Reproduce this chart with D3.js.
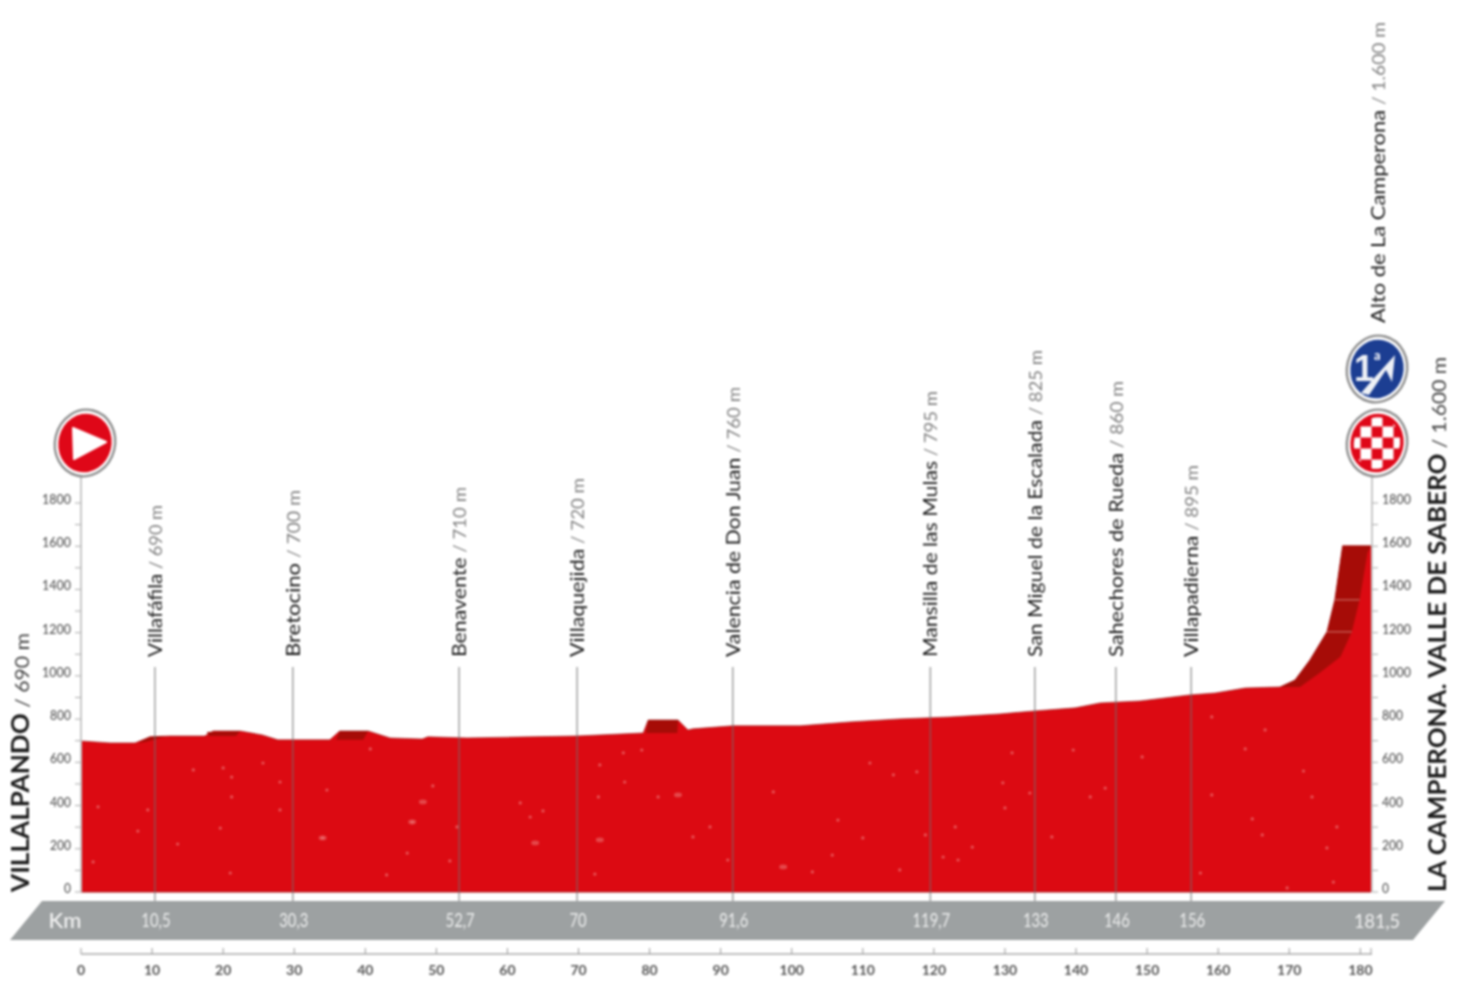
<!DOCTYPE html>
<html><head><meta charset="utf-8">
<script src="https://cdn.jsdelivr.net/npm/d3@7"></script>
<style>html,body{margin:0;background:#fff;overflow:hidden}svg{display:block;filter:blur(1px)}</style>
</head><body><svg id="c" width="1460" height="993"></svg>
<script>
const profileKm=[0,4.1,7.6,9.7,12.5,17.4,18.6,22.4,25.5,27.7,35,36.4,40.4,43.5,48,48.8,54.3,63.2,69.8,79.1,79.8,84,85.4,86.1,91.7,101.2,108.2,115.2,122.3,129.3,134.2,139.9,143.4,149,156,159.6,163.8,168.7,170.8,172.9,175.3,176.4,177.5,181.5];
const profileElev=[699,690,690,718,722,722,745,745,727,704,704,745,745,713,708,718,713,718,722,736,796,796,750,755,769,769,787,801,810,824,838,852,875,884,912,921,944,949,981,1074,1204,1352,1602,1602];
const wallFrontKm=[181.5,181,179.9,178.8,177.2,174.3,171.5,168.7];
const wallFrontElev=[1602,1569,1352,1204,1088,1014,949,949];
const wallBackKm=[168.7,170.8,172.9,175.3,176.4,177.5,181.5];
const wallBackElev=[949,981,1074,1204,1352,1602,1602];
const shadeKm=[[8,9.7,12,9.2],[17.7,22.4,21.8,18],[36.4,40.4,39.7,35.9],[79.8,84,83.9,79.5]];
const shadeElev=[[690,718,722,695],[740,745,722,722],[745,745,704,704],[796,796,736,736]];
const passNames=["Villafáfila","Bretocino","Benavente","Villaquejida","Valencia de Don Juan","Mansilla de las Mulas","San Miguel de la Escalada","Sahechores de Rueda","Villapadierna"];
const passAlts=["690 m","700 m","710 m","720 m","760 m","795 m","825 m","860 m","895 m"];
const passKm=[10.4,29.8,53.2,69.8,91.7,119.5,134.2,145.6,156.2];
const passLen=[152,167,170,179,270,266,307,276,192];
const bandLabels=["10,5","30,3","52,7","70","91,6","119,7","133","146","156"];
const kmTicks=[0,10,20,30,40,50,60,70,80,90,100,110,120,130,140,150,160,170,180];
const elevTicks=[0,200,400,600,800,1000,1200,1400,1600,1800];
const elevMinor=[100,300,500,700,900,1100,1300,1500,1700];
const speckKm=[25.6,15.8,20,21.2,28,49.5,34.6,40.7,2.4,9.4,46.6,52.9,34,43,1.7,21.2,8,13.6,45.9,51.9,21,28,19.6,72.3,72.8,76.5,81.2,102.9,118.8,115.2,111,114.3,117.6,65,61.8,63.2,86.1,88.5,97.4,106.5,105.7,91,76.3,78.9,110,73,163.8,139.6,133.5,130,125.4,123.4,121.3,176.7,173.2,159.1,164.8,166.2,157.5,176.2,169.7,175.3,144.1,142,149.3,136.6,166.6,159.1,172,129.7,131,123];
const speckElev=[597,565,574,532,509,491,472,662,394,380,324,301,250,79,139,440,282,222,180,144,88,380,296,83,440,509,440,93,264,102,597,542,556,375,412,347,255,301,463,333,171,148,644,657,250,588,662,657,458,389,208,148,162,301,440,449,338,264,88,46,19,204,481,440,625,255,750,810,560,505,644,301];
const blotchKm=[73,48.1,63.9,84,98.8,34,46.6];
const blotchElev=[241,417,227,449,116,250,324];

const svg=d3.select("#c");
const x=d3.scaleLinear().domain([0,181.5]).range([81,1371]);
const y=d3.scaleLinear().domain([0,1800]).range([892,503]);
const RED="#dc0a12",DARK="#a60c07",GREY="#9da1a2";
const FONT="Lato, 'Open Sans', sans-serif";

// profile
const area=d3.area().x((d,i)=>x(profileKm[i])).y0(y(0)).y1(d=>y(d));
svg.append("path").datum(profileElev).attr("d",area).attr("fill",RED);
const topLine=d3.line().x((d,i)=>x(profileKm[i])).y(d=>y(d));
svg.append("path").datum(profileElev).attr("d",topLine).attr("fill","none").attr("stroke","#8c1010").attr("stroke-opacity",.55).attr("stroke-width",1);
svg.append("line").attr("x1",x(0)).attr("x2",x(181.5)).attr("y1",y(0)).attr("y2",y(0)).attr("stroke","#a8141a").attr("stroke-width",1);
const poly=(ks,es)=>"M"+ks.map((k,i)=>[x(k),y(es[i])].join(",")).join("L")+"Z";
svg.append("path").attr("d",poly(wallBackKm.concat(wallFrontKm),wallBackElev.concat(wallFrontElev))).attr("fill",DARK);
shadeKm.forEach((k,i)=>svg.append("path").attr("d",poly(k,shadeElev[i])).attr("fill",DARK));
[[176.4,179.9,1352],[175.3,178.8,1204]].forEach(d=>svg.append("line").attr("x1",x(d[0])).attr("x2",x(d[1])).attr("y1",y(d[2])).attr("y2",y(d[2])).attr("stroke","#c8635a").attr("stroke-width",1.3));
// specks
svg.append("g").selectAll("circle").data(speckKm).join("circle").attr("cx",d=>x(d)).attr("cy",(d,i)=>y(speckElev[i])).attr("r",1.6).attr("fill","#f08a88").attr("opacity",.6);
svg.append("g").selectAll("ellipse").data(blotchKm).join("ellipse").attr("cx",d=>x(d)).attr("cy",(d,i)=>y(blotchElev[i])).attr("rx",4).attr("ry",2.4).attr("fill","#ec7a78").attr("opacity",.55);

// band
svg.append("polygon").attr("points",[[42,901],[1445,901],[1413,940],[10,940]].join(" ")).attr("fill",GREY);
svg.append("text").attr("x",65).attr("y",928).attr("text-anchor","middle").attr("font-family",FONT).attr("font-size",22).attr("font-weight",500).attr("fill","#f4f4f4").text("Km");
const narrow=function(k){return function(){this.setAttribute("textLength",this.getComputedTextLength()*k);this.setAttribute("lengthAdjust","spacingAndGlyphs");};};
svg.selectAll(".bl").data(bandLabels).join("text").attr("x",(d,i)=>x(passKm[i])+1).attr("y",927).attr("text-anchor","middle").attr("font-family",FONT).attr("font-size",19).attr("fill","#eceded").text(d=>d).each(function(){narrow(.78).call(this);});
svg.append("text").attr("x",1377).attr("y",928).attr("text-anchor","middle").attr("font-family",FONT).attr("font-size",20).attr("fill","#f0f0f0").text("181,5").each(function(){narrow(.9).call(this);});

// pass lines + labels
svg.selectAll(".pl").data(passKm).join("line").attr("x1",d=>x(d)).attr("x2",d=>x(d)).attr("y1",667).attr("y2",901).attr("stroke","#6f6f6f").attr("stroke-opacity",.65).attr("stroke-width",1.5);
const lab=svg.selectAll(".lab").data(passNames).join("text").attr("transform",(d,i)=>`translate(${x(passKm[i])+7},657) rotate(-90)`).attr("font-family",FONT).attr("font-size",20).attr("fill","#1c1c1c").attr("textLength",(d,i)=>passLen[i]).attr("lengthAdjust","spacingAndGlyphs");
lab.append("tspan").text(d=>d);
lab.append("tspan").attr("fill","#808080").attr("font-size",17.5).text((d,i)=>" / "+passAlts[i]);
const alto=svg.append("text").attr("transform","translate(1385,323) rotate(-90)").attr("font-family",FONT).attr("font-size",20).attr("fill","#1c1c1c").attr("textLength",301).attr("lengthAdjust","spacingAndGlyphs");
alto.append("tspan").text("Alto de La Camperona");alto.append("tspan").attr("fill","#808080").attr("font-size",17.5).text(" / 1.600 m");

// titles
const tl=svg.append("text").attr("transform","translate(29,892) rotate(-90)").attr("font-family",FONT).attr("font-size",24).attr("fill","#1c1c1c").attr("textLength",259).attr("lengthAdjust","spacingAndGlyphs");
tl.append("tspan").attr("font-weight",700).text("VILLALPANDO");tl.append("tspan").attr("fill","#444").attr("font-size",19.5).text(" / 690 m");
const tr=svg.append("text").attr("transform","translate(1446,892) rotate(-90)").attr("font-family",FONT).attr("font-size",24).attr("fill","#1c1c1c").attr("textLength",535).attr("lengthAdjust","spacingAndGlyphs");
tr.append("tspan").attr("font-weight",700).text("LA CAMPERONA. VALLE DE SABERO");tr.append("tspan").attr("fill","#444").attr("font-size",19.5).text(" / 1.600 m");

// y axes
[[81,470,-1,71,"end"],[1372,475,1,1382,"start"]].forEach(([ax,top,dir,tx,anc])=>{
  svg.append("line").attr("x1",ax).attr("x2",ax).attr("y1",top).attr("y2",y(0)).attr("stroke","#c8c8c8").attr("stroke-width",2);
  svg.append("g").selectAll("line").data(elevTicks.concat(elevMinor)).join("line").attr("x1",ax).attr("x2",ax+dir*6).attr("y1",d=>y(d)).attr("y2",d=>y(d)).attr("stroke","#aaa").attr("stroke-width",1);
  svg.append("g").selectAll("text").data(elevTicks).join("text").attr("x",tx).attr("y",d=>y(d)+1).attr("text-anchor",anc).attr("font-family",FONT).attr("font-weight",500).attr("font-size",13).attr("fill","#555").attr("textLength",d=>d>=1000?29:d>0?21:7).attr("lengthAdjust","spacingAndGlyphs").text(d=>d);
});

// km axis
svg.append("line").attr("x1",81).attr("x2",1372).attr("y1",954).attr("y2",954).attr("stroke","#aaa").attr("stroke-width",1.5);
svg.append("g").selectAll("line").data(kmTicks.concat([181.5])).join("line").attr("x1",d=>x(d)).attr("x2",d=>x(d)).attr("y1",948).attr("y2",954).attr("stroke","#999");
svg.append("g").selectAll("text").data(kmTicks).join("text").attr("x",d=>x(d)).attr("y",975).attr("text-anchor","middle").attr("font-family",FONT).attr("font-weight",700).attr("font-size",14).attr("fill","#555").text(d=>d);

// signs
function badge(cx,cy,fill){
  const g=svg.append("g").attr("transform",`translate(${cx},${cy}) rotate(14)`);
  g.append("ellipse").attr("rx",30).attr("ry",33.5).attr("fill","#fff").attr("stroke","#8f8f8f").attr("stroke-width",2.4);
  g.append("ellipse").attr("rx",26.5).attr("ry",29.5).attr("fill",fill);
  return svg.append("g").attr("transform",`translate(${cx},${cy})`);
}
badge(85,443,"#df0718").append("polygon").attr("points","-12,-15 21,-1 -11,16").attr("fill","#fff").attr("stroke","#fff").attr("stroke-linejoin","round").attr("stroke-width",2);
const blue=badge(1377,369,"#1c3e92");
blue.append("path").attr("d","M-16,24 L-2,8 L18,-14 L15,13 L9,1 L-8,26Z").attr("fill","#eef1f6");
blue.append("text").attr("x",-23).attr("y",12).attr("font-family","'Liberation Sans',sans-serif").attr("font-weight",700).attr("font-size",36).attr("fill","#eef1f6").text("1");
blue.append("text").attr("x",-3).attr("y",-9).attr("font-family",FONT).attr("font-weight",700).attr("font-size",13).attr("fill","#fff").text("a");
const fin=badge(1377,443,"#df0718");
const cd=svg.append("defs").append("clipPath").attr("id","fc");cd.append("ellipse").attr("rx",23).attr("ry",26).attr("transform","rotate(14)");
const grid=fin.append("g").attr("clip-path","url(#fc)");
d3.range(-3,4).forEach(i=>d3.range(-3,4).forEach(j=>{if((i+j)%2===0)grid.append("rect").attr("x",i*11-5.5).attr("y",j*11-5.5).attr("width",11).attr("height",11).attr("fill","#fff");}));
</script></body></html>
